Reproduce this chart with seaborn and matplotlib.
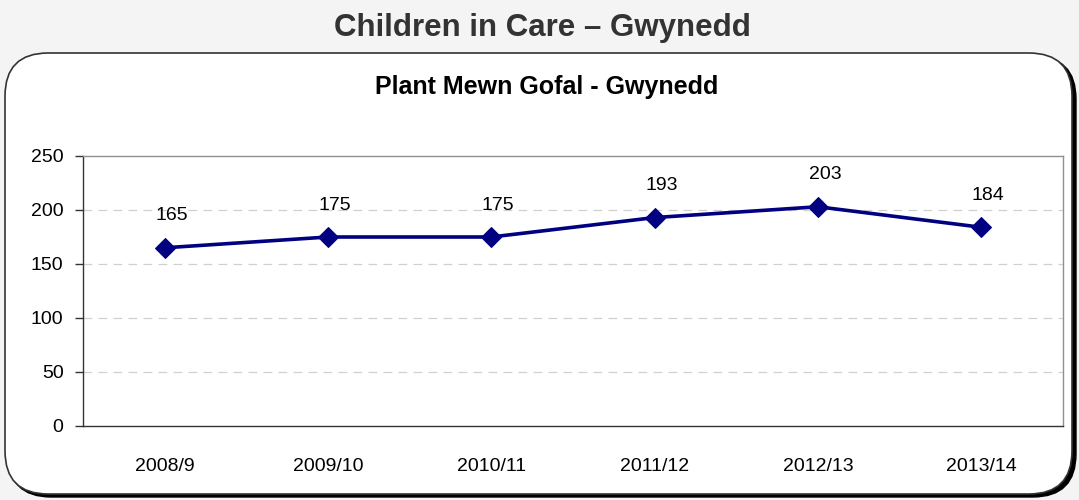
import pandas as pd
import matplotlib.pyplot as plt
import seaborn as sns
from matplotlib.patches import FancyBboxPatch
from matplotlib.ticker import FixedLocator

# data
years = ['2008/9', '2009/10', '2010/11', '2011/12', '2012/13', '2013/14']
children = [165, 175, 175, 193, 203, 184]
y_ticks = [0, 50, 100, 150, 200, 250]

df = pd.DataFrame({'year': years, 'count': children})

sns.set_theme(style="white")
plt.rcParams['font.family'] = ['Liberation Sans', 'DejaVu Sans']

fig = plt.figure(figsize=(10.79, 5.0), dpi=100)
fig.patch.set_facecolor('#f4f4f4')

W, H = 1079, 500

# rounded white panel with a dark shadow at the bottom right
shadow = FancyBboxPatch((8 / W, 3 / H), 1068 / W, 441 / H,
                        boxstyle="round,pad=0,rounding_size=0.04",
                        transform=fig.transFigure, facecolor='black',
                        edgecolor='black', mutation_aspect=W / H, zorder=0)
panel = FancyBboxPatch((5 / W, 6 / H), 1067 / W, 441 / H,
                       boxstyle="round,pad=0,rounding_size=0.04",
                       transform=fig.transFigure, facecolor='white',
                       edgecolor='#333333', linewidth=1.2,
                       mutation_aspect=W / H, zorder=1)
fig.patches.extend([shadow, panel])

fig.text(542 / W, 1 - 28 / H, 'Children in Care – Gwynedd', ha='center',
         va='center', fontsize=22.5, fontweight='bold', color='#333333')
fig.text(547 / W, 1 - 87 / H, 'Plant Mewn Gofal - Gwynedd', ha='center',
         va='center', fontsize=18, fontweight='bold', color='black')

# plot area: x 83..1063, y 156..426 (pixels)
ax = fig.add_axes([83 / W, 1 - 426 / H, 980 / W, 270 / H])
ax.set_facecolor('white')
ax.set_zorder(2)

sns.lineplot(data=df, x='year', y='count', ax=ax, color='#000080',
             linewidth=2.6, marker='D', markersize=10,
             markeredgecolor='#000080', sort=False)

for i, v in enumerate(children):
    ax.annotate(str(v), (i, v), xytext=(5, 23), textcoords='offset points',
                ha='center', va='center', fontsize=14, color='black')

ax.set_xlim(-0.5, len(years) - 0.5)
ax.set_ylim(0, 250)
ax.set_yticks(y_ticks)
ax.set_xlabel('')
ax.set_ylabel('')

for y in y_ticks[1:-1]:
    ax.axhline(y, color='#d0d0d0', linewidth=0.9, linestyle=(0, (7, 5)), zorder=0)

# category ticks between bands, labels centred in bands
ax.xaxis.set_minor_locator(FixedLocator([i - 0.5 for i in range(len(years) + 1)]))
ax.tick_params(axis='x', which='major', length=0, pad=23, labelsize=14, colors='black')
ax.tick_params(axis='x', which='minor', length=6, width=1, color='#333333', direction='out')
ax.tick_params(axis='y', length=6, width=1, color='#333333', direction='out',
               left=True, labelsize=14, labelcolor='black', pad=8)

for s in ['left', 'bottom']:
    ax.spines[s].set_color('#333333')
    ax.spines[s].set_linewidth(1.0)
for s in ['top', 'right']:
    ax.spines[s].set_color('#909090')
    ax.spines[s].set_linewidth(1.0)

fig.savefig('out.png', dpi=100, facecolor=fig.get_facecolor())
